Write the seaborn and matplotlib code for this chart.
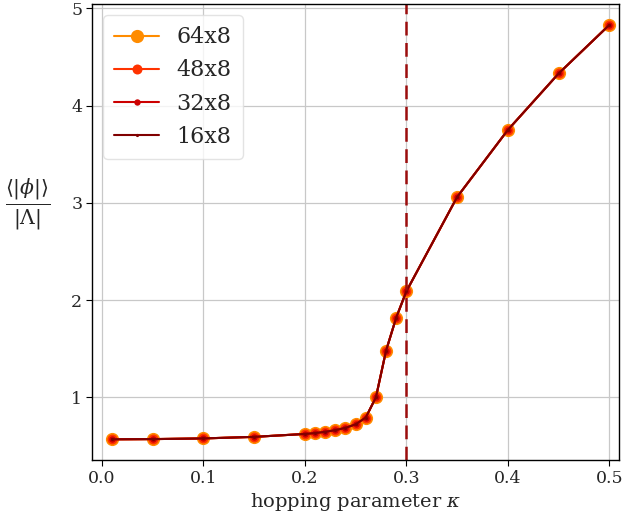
import numpy as np
import pandas as pd
import matplotlib
matplotlib.use("Agg")
import matplotlib.pyplot as plt
import seaborn as sns

kappa = [0.01, 0.05, 0.1, 0.15, 0.2, 0.21, 0.22, 0.23, 0.24, 0.25, 0.26,
         0.27, 0.28, 0.29, 0.3, 0.35, 0.4, 0.45, 0.5]
phi = [0.568, 0.570, 0.577, 0.593, 0.623, 0.632, 0.645, 0.662, 0.686, 0.722,
       0.792, 1.00, 1.48, 1.82, 2.09, 3.06, 3.75, 4.33, 4.83]

lattices = ["64x8", "48x8", "32x8", "16x8"]
farben = ["#ff8c00", "#ff3300", "#cc0000", "#800000"]
marker_groessen = [9.5, 7.2, 4.6, 2.3]
kappa_krit = 0.3

sns.set_theme(style="whitegrid")
plt.rcParams['font.family'] = ['DejaVu Serif']
plt.rcParams['mathtext.fontset'] = 'dejavuserif'

df = pd.DataFrame({
    "kappa": np.tile(kappa, len(lattices)),
    "phi": np.tile(phi, len(lattices)),
    "gitter": np.repeat(lattices, len(kappa)),
})

fig = plt.figure(figsize=(6.22, 5.14), dpi=100)
ax = fig.add_axes([0.148, 0.105, 0.847, 0.887])

for gitter, farbe, ms in zip(lattices, farben, marker_groessen):
    sub = df[df["gitter"] == gitter]
    sns.lineplot(data=sub, x="kappa", y="phi", ax=ax, color=farbe, marker="o",
                 markersize=ms, markeredgewidth=0, linewidth=1.5, label=gitter)

ax.axvline(kappa_krit, color="#9b0d0d", linestyle=(0, (5.5, 3)), linewidth=1.8)

ax.set_xlim(-0.0096, 0.5093)
ax.set_xticks([0.0, 0.1, 0.2, 0.3, 0.4, 0.5])
ax.set_yticks([1, 2, 3, 4, 5])
ax.grid(True, color="#c8c8c8", linewidth=0.9)
for s in ax.spines.values():
    s.set_color("black")
    s.set_linewidth(1.0)
ax.tick_params(axis="both", which="major", length=4, width=0.8, color="black",
               labelsize=12.5, bottom=True, left=True, pad=3)
ax.set_facecolor("white")

ax.set_xlabel(r"hopping parameter $\kappa$", fontsize=14, labelpad=3)
ax.set_ylabel(r"$\frac{\langle|\phi|\rangle}{|\Lambda|}$", fontsize=21,
              rotation=0, labelpad=31, va="center", y=0.56)

leg = ax.legend(loc="upper left", fontsize=16, frameon=True, fancybox=True,
                borderpad=0.5, handlelength=2.0)
leg.get_frame().set_edgecolor("#dddddd")

plt.savefig("out.png", dpi=100)
